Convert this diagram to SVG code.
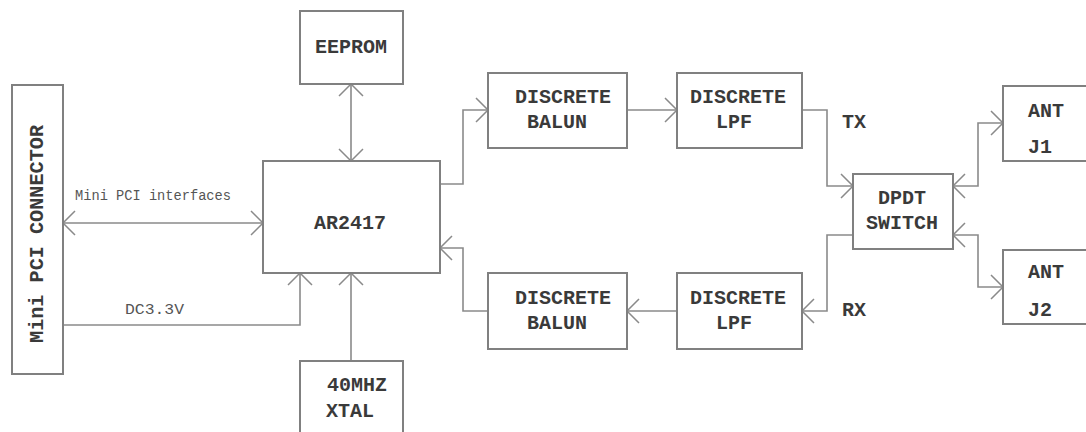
<svg xmlns="http://www.w3.org/2000/svg" width="1086" height="432" viewBox="0 0 1086 432">
<style>
.box{fill:#fff;stroke:#808080;stroke-width:2}
.t{font-family:"Liberation Mono","DejaVu Sans Mono",monospace;font-size:20px;font-weight:bold;fill:#3a3a3a}
.s{font-family:"Liberation Mono","DejaVu Sans Mono",monospace;font-size:14px;fill:#555}
.c{fill:none;stroke:#8a8a8a;stroke-width:1.6}
</style>
<defs>
<marker id="a" markerUnits="userSpaceOnUse" markerWidth="16" markerHeight="30" viewBox="-14 -15 16 30" refX="0" refY="0" orient="auto-start-reverse">
<path d="M-12,-12 L0,0 L-12,12" fill="none" stroke="#8a8a8a" stroke-width="1.5"/>
</marker>
</defs>
<rect width="1086" height="432" fill="#fff"/>
<g id="connectors">
<path class="c" d="M63,223 H263" marker-start="url(#a)" marker-end="url(#a)"/>
<path class="c" d="M63,325 H300 V273" marker-end="url(#a)"/>
<path class="c" d="M351,84 V161" marker-start="url(#a)" marker-end="url(#a)"/>
<path class="c" d="M351,361 V273" marker-end="url(#a)"/>
<path class="c" d="M440,184 H463 V110 H488" marker-end="url(#a)"/>
<path class="c" d="M627,110 H677" marker-end="url(#a)"/>
<path class="c" d="M802,110 H827 V186 H853" marker-end="url(#a)"/>
<path class="c" d="M853,235 H827 V311 H802" marker-end="url(#a)"/>
<path class="c" d="M677,311 H627" marker-end="url(#a)"/>
<path class="c" d="M488,311 H463 V248 H440" marker-end="url(#a)"/>
<path class="c" d="M953,186 H978 V123 H1003" marker-start="url(#a)" marker-end="url(#a)"/>
<path class="c" d="M953,235 H978 V287 H1003" marker-start="url(#a)" marker-end="url(#a)"/>
<text class="s" x="75" y="200" textLength="156" lengthAdjust="spacingAndGlyphs">Mini PCI interfaces</text>
<text class="s" x="125" y="314" textLength="59" lengthAdjust="spacingAndGlyphs">DC3.3V</text>
<text class="t" x="842" y="128">TX</text>
<text class="t" x="842" y="316">RX</text>
</g>
<g id="minipci">
<rect class="box" x="12" y="85" width="51" height="289"/>
<text class="t" transform="translate(43,234) rotate(-90)" text-anchor="middle" textLength="218" lengthAdjust="spacingAndGlyphs">Mini PCI CONNECTOR</text>
</g>
<g id="eeprom">
<rect class="box" x="300" y="11" width="103" height="73"/>
<text class="t" x="351" y="53" text-anchor="middle">EEPROM</text>
</g>
<g id="ar2417">
<rect class="box" x="263" y="161" width="177" height="112"/>
<text class="t" x="350" y="229" text-anchor="middle">AR2417</text>
</g>
<g id="xtal">
<rect class="box" x="300" y="361" width="103" height="80"/>
<text class="t" x="327" y="391">40MHZ</text>
<text class="t" x="326" y="417">XTAL</text>
</g>
<g id="balun_tx">
<rect class="box" x="488" y="73" width="139" height="75"/>
<text class="t" x="515" y="103">DISCRETE</text>
<text class="t" x="527" y="128">BALUN</text>
</g>
<g id="lpf_tx">
<rect class="box" x="677" y="73" width="125" height="75"/>
<text class="t" x="690" y="103">DISCRETE</text>
<text class="t" x="716" y="128">LPF</text>
</g>
<g id="balun_rx">
<rect class="box" x="488" y="273" width="139" height="76"/>
<text class="t" x="515" y="304">DISCRETE</text>
<text class="t" x="527" y="329">BALUN</text>
</g>
<g id="lpf_rx">
<rect class="box" x="677" y="273" width="125" height="76"/>
<text class="t" x="690" y="304">DISCRETE</text>
<text class="t" x="716" y="329">LPF</text>
</g>
<g id="dpdt">
<rect class="box" x="853" y="174" width="100" height="75"/>
<text class="t" x="878" y="204">DPDT</text>
<text class="t" x="866" y="229">SWITCH</text>
</g>
<g id="ant_j1">
<rect class="box" x="1003" y="86" width="92" height="75"/>
<text class="t" x="1028" y="117">ANT</text>
<text class="t" x="1028" y="153">J1</text>
</g>
<g id="ant_j2">
<rect class="box" x="1003" y="250" width="92" height="74"/>
<text class="t" x="1028" y="278">ANT</text>
<text class="t" x="1028" y="316">J2</text>
</g>
</svg>
